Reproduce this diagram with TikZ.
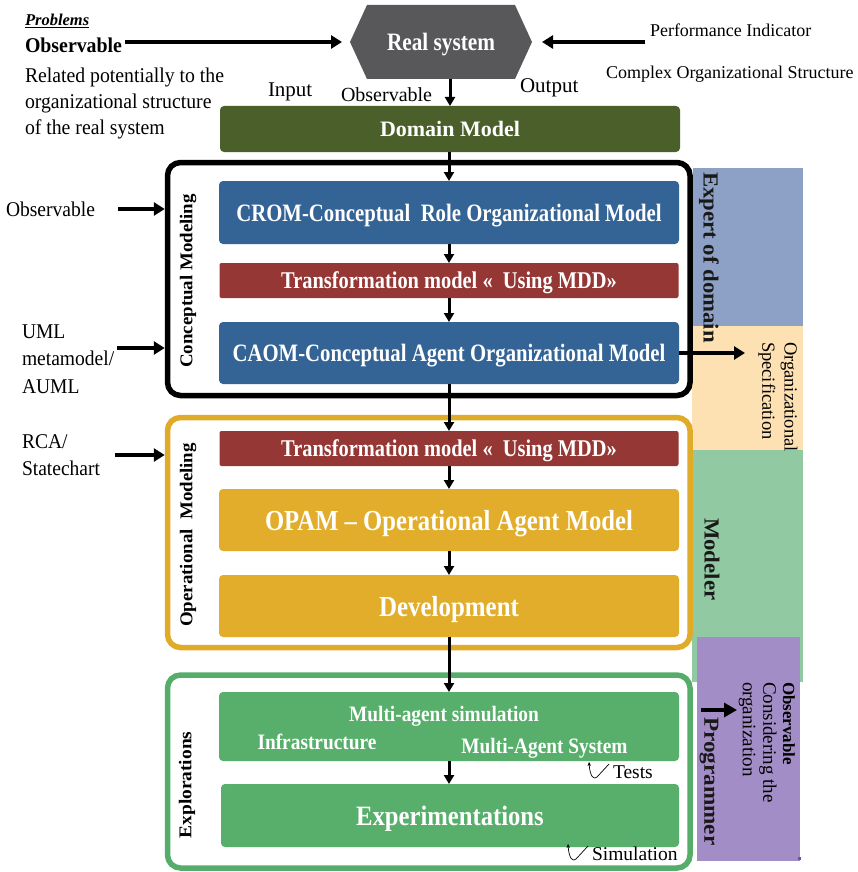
\documentclass[tikz,border=0pt]{standalone}
\usepackage{fontspec}
\setmainfont{Liberation Serif}
\usepackage{graphicx}
\usetikzlibrary{arrows.meta,backgrounds}

\definecolor{hexgray}{HTML}{58585A}
\definecolor{domgreen}{HTML}{4B5F2B}
\definecolor{cblue}{HTML}{346496}
\definecolor{cred}{HTML}{953735}
\definecolor{cgold}{HTML}{E1AD2A}
\definecolor{cgreen}{HTML}{57AF6B}
\definecolor{fgold}{HTML}{E1AB2A}
\definecolor{fgreen}{HTML}{55AD69}
\definecolor{barblue}{HTML}{8DA1C6}
\definecolor{barpeach}{HTML}{FDE1B3}
\definecolor{bargreen}{HTML}{90C9A2}
\definecolor{barpurple}{HTML}{A38DC6}
\definecolor{dotpurple}{HTML}{7050A8}

\newcommand{\fsz}[1]{\fontsize{#1}{#1}\selectfont}
\newcommand{\sq}[2]{\scalebox{#1}[1]{#2}}

\begin{document}
\begin{tikzpicture}[x=1pt,y=-1pt,
  every node/.style={inner sep=0pt, outer sep=0pt},
  box/.style={rectangle, rounded corners=4pt, minimum width=460pt, text=white, text depth=0pt},
  frame/.style={rectangle, rounded corners=13pt, line width=5.5pt, minimum width=522.5pt},
  arr/.style={line width=3pt, -{Triangle[length=9pt,width=10pt]}},
  arrw/.style={line width=4pt, -{Triangle[length=11pt,width=13pt]}},
  lbl/.style={anchor=base west, font=\fsz{21}},
  sidelbl/.style={rotate=90, font=\fsz{18}\bfseries},
  role/.style={rotate=-90, anchor=west, font=\fsz{21.5}\bfseries, text=black!90},
  vtxt/.style={rotate=-90, anchor=west},
  loopmark/.pic={\draw[line width=0.7pt, -{Stealth[length=4pt,width=3.5pt]}]
      (-4,-14) -- (-16,-1) .. controls (-19,2) and (-23,-1) .. (-24,-16);}
]
\useasboundingbox (0,0) rectangle (857,872);
\begin{scope}[on background layer]
  \fill[white] (0,0) rectangle (857,872);
\end{scope}

% ---- role bars on the right
\fill[barblue]   (693,168) rectangle (803,326);
\fill[barpeach]  (692,326) rectangle (803,450);
\fill[bargreen]  (692,450) rectangle (803,682);
\fill[barpurple] (697,637) rectangle (800,861);
\fill[dotpurple] (798,857) rectangle (801,860);

% ---- phase frames
\node[frame, draw=black,  minimum height=233pt] (fconc) at (428.75,279) {};
\node[frame, draw=fgold,  minimum height=230pt] (fop)   at (428.75,532.5) {};
\node[frame, draw=fgreen, minimum height=193pt] (fexp)  at (428.75,771.5) {};

\node[sidelbl] (lconc) at (188,281) {\sq{1.05}{Conceptual Modeling}};
\node[sidelbl] (lop)   at (188,535) {\sq{1.05}{Operational~ Modeling}};
\node[sidelbl] (lexp)  at (187,785) {\sq{1.08}{Explorations}};

% ---- real system
\node[font=\fsz{25}\bfseries, text=white, text depth=0pt, minimum width=182pt, minimum height=74pt]
  (hex) at (441,42) {\sq{0.85}{Real system}};
\begin{scope}[on background layer]
  \fill[hexgray] (hex.west) -- ([xshift=17pt]hex.north west) -- ([xshift=-17pt]hex.north east)
    -- (hex.east) -- ([xshift=-17pt]hex.south east) -- ([xshift=17pt]hex.south west) -- cycle;
\end{scope}

% ---- top-left notes
\node[anchor=base west, font=\fsz{16.5}\bfseries\itshape] (prob) at (25,26) {\underline{Problems}};
\node[anchor=base west, font=\fsz{21}\bfseries] (obs0) at (25,53) {\sq{0.945}{Observable}};
\node[lbl] (rel1) at (25,83)  {\sq{0.94}{Related potentially to the}};
\node[lbl] (rel2) at (25,109) {\sq{0.94}{organizational structure}};
\node[lbl] (rel3) at (25,135) {\sq{0.94}{of the real system}};

\node[anchor=base west, font=\fsz{18}] (perf) at (650,37) {Performance Indicator};
\node[anchor=base west, font=\fsz{18}] (cos)  at (606,79) {Complex Organizational Structure};

\node[anchor=base west, font=\fsz{21}] (inp)  at (268,97)  {Input};
\node[anchor=base west, font=\fsz{20}] (obs1) at (341,102) {Observable};
\node[anchor=base west, font=\fsz{21}] (outp) at (520,93)  {Output};

% ---- model boxes
\node[box, fill=domgreen, minimum height=46pt, font=\fsz{22}\bfseries] (dm) at (450,129) {Domain Model};
\node[box, fill=cblue, minimum height=63pt, font=\fsz{25}\bfseries] (crom) at (449,212.5)
  {\sq{0.83}{CROM-Conceptual~ Role Organizational Model}};
\node[box, fill=cred, minimum height=35pt, minimum width=459pt, rounded corners=2pt, font=\fsz{24}\bfseries]
  (tr1) at (449,280.5) {\sq{0.85}{Transformation model «~ Using MDD»}};
\node[box, fill=cblue, minimum height=62pt, font=\fsz{25}\bfseries] (caom) at (449,353)
  {\sq{0.83}{CAOM-Conceptual Agent Organizational Model}};
\node[box, fill=cred, minimum height=35pt, minimum width=459pt, rounded corners=2pt, font=\fsz{24}\bfseries]
  (tr2) at (449,448.5) {\sq{0.85}{Transformation model «~ Using MDD»}};
\node[box, fill=cgold, minimum height=62pt, font=\fsz{29}\bfseries] (opam) at (449,520)
  {\sq{0.85}{OPAM – Operational Agent Model}};
\node[box, fill=cgold, minimum height=62pt, font=\fsz{29}\bfseries] (dev) at (449,606)
  {\sq{0.86}{Development}};
\node[box, fill=cgreen, minimum height=69pt] (mas) at (449,726.5) {};
\node[anchor=base, font=\fsz{22}\bfseries, text=white] (mas1) at (444,721)   {\sq{0.88}{Multi-agent simulation}};
\node[anchor=base, font=\fsz{22}\bfseries, text=white] (mas2) at (317,749.5) {\sq{0.88}{Infrastructure}};
\node[anchor=base, font=\fsz{22}\bfseries, text=white] (mas3) at (544.5,753) {\sq{0.88}{Multi-Agent System}};
\node[box, fill=cgreen, minimum height=63pt, minimum width=458pt, font=\fsz{28}\bfseries] (exp) at (450,815.5)
  {\sq{0.88}{Experimentations}};

\node[anchor=base west, font=\fsz{19.5}] (tests) at (613,778) {Tests};
\node[anchor=base west, font=\fsz{19.5}] (simu)  at (592,860) {Simulation};
\pic at (tests.base west) {loopmark};
\pic at (simu.base west) {loopmark};

% ---- inputs on the left
\node[lbl] (lobs) at (6,216.5) {\sq{0.93}{Observable}};
\node[lbl] (uml1) at (22,338) {\sq{0.93}{UML}};
\node[lbl] (uml2) at (22,365) {\sq{0.93}{metamodel/}};
\node[lbl] (uml3) at (22,393) {\sq{0.93}{AUML}};
\node[lbl] (rca1) at (22,448) {\sq{0.93}{RCA/}};
\node[lbl] (rca2) at (22,475) {\sq{0.93}{Statechart}};

\coordinate (aObs) at (118,209);
\coordinate (aUml) at (117,348);
\coordinate (aRca) at (115,455);
\draw[arrw, shorten >=2.75pt] (aObs) -- (aObs -| fconc.west);
\draw[arrw, shorten >=2.75pt] (aUml) -- (aUml -| fconc.west);
\draw[arrw, shorten >=2.75pt] (aRca) -- (aRca -| fop.west);

% ---- role labels
\node[role] (expd) at (709,172) {\sq{1.06}{Expert of domain}};
\node[role] (modl) at (712,518) {\sq{1.06}{Modeler}};
\node[role] (prog) at (709,717) {\sq{1.08}{Programmer}};
\node[vtxt, font=\fsz{18.5}] (osp1) at (789,342) {Organizational};
\node[vtxt, font=\fsz{18.5}] (osp2) at (767,342) {Specification};
\node[vtxt, font=\fsz{17}\bfseries] (pobs) at (789,682) {Observable};
\node[vtxt, font=\fsz{19}] (pcon) at (768,682) {Considering the};
\node[vtxt, font=\fsz{19}] (porg) at (747,682) {organization};

\coordinate (pa) at (701,710);
\coordinate (pb) at (737,710);
\draw[line width=4pt, -{Triangle[length=13pt,width=14pt]}] (pa) -- (pb);

% ---- flow connectors
\draw[arrw, shorten >=8pt] ([xshift=3pt]obs0.east |- hex.west) -- (hex.west);
\draw[arrw, shorten >=10pt] ([xshift=-5pt]perf.west |- hex.east) -- (hex.east);
\draw[arr] (hex.south -| dm.north) -- (dm.north);
\draw[arr] (dm.south -| crom.north) -- (crom.north);
\draw[arr] (crom.south) -- (tr1.north);
\draw[arr] (tr1.south) -- (caom.north);
\coordinate (aOrg) at (745,353);
\draw[arrw] (caom.east) -- (aOrg);
\draw[arr] (caom.south) -- (tr2.north);
\draw[arr] (tr2.south) -- (opam.north);
\draw[arr] (opam.south) -- (dev.north);
\draw[arr] (dev.south) -- (mas.north);
\draw[arr] (mas.south) -- (mas.south |- exp.north);
\end{tikzpicture}
\end{document}
